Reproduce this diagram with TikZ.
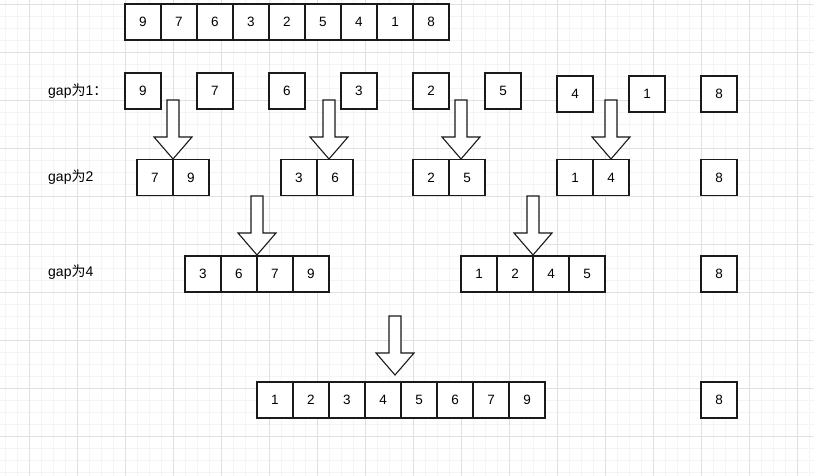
\documentclass[tikz,border=0pt]{standalone}
\usepackage{fontspec}
\setmainfont{Liberation Sans}
\newfontfamily\cjk{Noto Sans CJK SC}
\usepackage{tikz}
\usetikzlibrary{positioning}
\definecolor{gridmajor}{HTML}{E0E0E0}
\definecolor{gridminor}{HTML}{F4F4F4}
\definecolor{cellline}{HTML}{1A1A1A}

% block arrow: tip x, top of shaft y, tip y
\newcommand{\sortarrow}[3]{%
  \draw[blockarrow] ({#1-6},{#2}) -- ({#1+6},{#2}) -- ({#1+6},{#2+37})
    -- ({#1+19},{#2+37}) -- ({#1},{#3}) -- ({#1-19},{#2+37})
    -- ({#1-6},{#2+37}) -- cycle;}

\begin{document}
\begin{tikzpicture}[
    x=1pt,y=-1pt,
    font=\fontsize{13.5}{16}\selectfont,
    cell/.style={draw=cellline,line width=1.1pt,fill=white,minimum size=36pt,
      inner sep=0pt,outer sep=0pt},
    gaplabel/.style={anchor=west,inner sep=0pt,font=\fontsize{14}{16}\selectfont},
    blockarrow/.style={draw=cellline,line width=1.1pt,fill=white,line join=miter},
    minorline/.style={gridminor,line width=0.8pt},
    majorline/.style={gridmajor,line width=0.8pt}
  ]
    \useasboundingbox[fill=white] (0,0) rectangle (814,476);

    % background grid
    \foreach \gx in {5,17,...,809} \draw[minorline] (\gx,0) -- (\gx,476);
    \foreach \gy in {4,16,...,472} \draw[minorline] (0,\gy) -- (814,\gy);
    \foreach \gx in {29,77,...,797} \draw[majorline] (\gx,0) -- (\gx,476);
    \foreach \gy in {4,52,...,436} \draw[majorline] (0,\gy) -- (814,\gy);

    % input array
    \node[cell] (a1) at (143,22) {9};
    \node[cell,right=0pt of a1] (a2) {7};
    \node[cell,right=0pt of a2] (a3) {6};
    \node[cell,right=0pt of a3] (a4) {3};
    \node[cell,right=0pt of a4] (a5) {2};
    \node[cell,right=0pt of a5] (a6) {5};
    \node[cell,right=0pt of a6] (a7) {4};
    \node[cell,right=0pt of a7] (a8) {1};
    \node[cell,right=0pt of a8] (a9) {8};

    % gap 1
    \node[gaplabel] (lab1) at (48,91.5) {gap{\cjk 为}1{\cjk ：}};
    \node[cell] (b1) at (143,91) {9};
    \node[cell] (b2) at (215,91) {7};
    \node[cell] (b3) at (287,91) {6};
    \node[cell] (b4) at (359,91) {3};
    \node[cell] (b5) at (431,91) {2};
    \node[cell] (b6) at (503,91) {5};
    \node[cell] (b7) at (575,94) {4};
    \node[cell] (b8) at (647,94) {1};
    \node[cell] (b9) at (719,94) {8};

    % gap 2
    \node[gaplabel] (lab2) at (48,177) {gap{\cjk 为}2};
    \node[cell] (c1) at (155,177.5) {7};
    \node[cell,right=0pt of c1] (c2) {9};
    \node[cell] (c3) at (299,177.5) {3};
    \node[cell,right=0pt of c3] (c4) {6};
    \node[cell] (c5) at (431,177.5) {2};
    \node[cell,right=0pt of c5] (c6) {5};
    \node[cell] (c7) at (575,177.5) {1};
    \node[cell,right=0pt of c7] (c8) {4};
    \node[cell] (c9) at (719,177.5) {8};

    % gap 4
    \node[gaplabel] (lab3) at (48,272) {gap{\cjk 为}4};
    \node[cell] (d1) at (203,274) {3};
    \node[cell,right=0pt of d1] (d2) {6};
    \node[cell,right=0pt of d2] (d3) {7};
    \node[cell,right=0pt of d3] (d4) {9};
    \node[cell] (d5) at (479,274) {1};
    \node[cell,right=0pt of d5] (d6) {2};
    \node[cell,right=0pt of d6] (d7) {4};
    \node[cell,right=0pt of d7] (d8) {5};
    \node[cell] (d9) at (719,274) {8};

    % result
    \node[cell] (e1) at (275,400) {1};
    \node[cell,right=0pt of e1] (e2) {2};
    \node[cell,right=0pt of e2] (e3) {3};
    \node[cell,right=0pt of e3] (e4) {4};
    \node[cell,right=0pt of e4] (e5) {5};
    \node[cell,right=0pt of e5] (e6) {6};
    \node[cell,right=0pt of e6] (e7) {7};
    \node[cell,right=0pt of e7] (e8) {9};
    \node[cell] (e9) at (719,400) {8};

    % merge arrows
    \sortarrow{173}{100}{159}
    \sortarrow{329}{100}{159}
    \sortarrow{461}{100}{159}
    \sortarrow{611}{100}{159}
    \sortarrow{257}{196}{255}
    \sortarrow{533}{196}{255}
    \sortarrow{395}{316}{375}
  \end{tikzpicture}
\end{document}
